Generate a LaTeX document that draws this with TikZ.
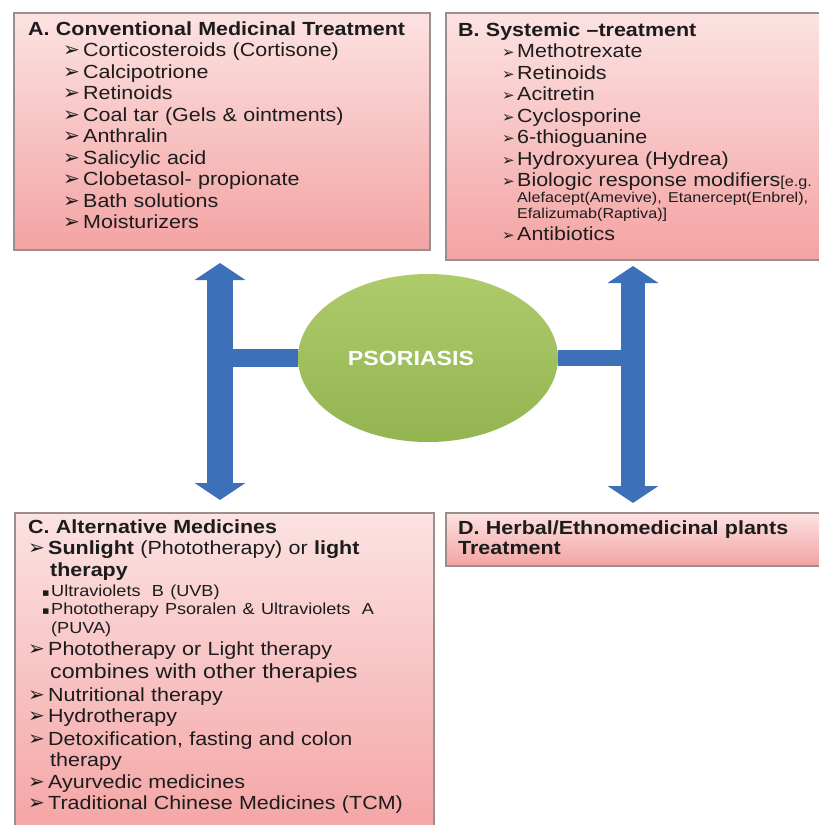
\documentclass[tikz,border=0pt]{standalone}
\usepackage{fontspec}
\setmainfont{Liberation Sans}[FakeStretch=1.13]
\newfontfamily\bulletfont{DejaVu Sans}
\usetikzlibrary{shapes.geometric,arrows.meta,shadows}

\definecolor{pinktop}{HTML}{FCE2E2}
\definecolor{pinkbot}{HTML}{F4A3A3}
\definecolor{panelline}{HTML}{9A8E8E}
\definecolor{arrowblue}{HTML}{3D70B8}
\definecolor{greentop}{HTML}{AECB6C}
\definecolor{greenbot}{HTML}{93B450}
\definecolor{inktext}{HTML}{1C1C1C}

\newcommand{\itemarrow}[1][20pt]{\makebox[#1][l]{\bulletfont\fontsize{20}{20}\selectfont\char"27A2}}
\newcommand{\itemarrowsmall}{\makebox[15pt][l]{\bulletfont\fontsize{15}{15}\selectfont\char"27A2}}
\newcommand{\itemsquare}{\makebox[9pt][l]{\bulletfont\fontsize{11}{11}\selectfont\char"25AA}}
\newcommand{\smalltext}{\fontsize{14.3}{16}\selectfont}
\newcommand{\midtext}{\fontsize{16}{18}\selectfont}
\newcommand{\listfont}{\fontsize{19}{21.5}\selectfont\lineskiplimit=-100pt\relax}

\tikzset{
	panel/.style={rectangle, anchor=north west, inner sep=0pt, top color=pinktop, bottom color=pinkbot,
		draw=panelline, line width=1.5pt, drop shadow={shadow xshift=1.5pt, shadow yshift=-1.5pt, opacity=0.3}},
	listtext/.style={anchor=base west, inner sep=0pt, text width=390pt, align=left, text=inktext,
		font=\listfont},
	updown/.style={draw=arrowblue, line width=26pt, {Triangle[length=17pt,width=50pt]}-{Triangle[length=17pt,width=50pt]}},
	crossbar/.style={draw=arrowblue, line width=18pt}
}

\begin{document}
\begin{tikzpicture}[x=1pt,y=-1pt]
	\useasboundingbox (0,0) rectangle (819,825);
	% panels
	\node[panel, minimum width=416pt, minimum height=237pt] (boxA) at (13,12) {};
	\node[panel, minimum width=380pt, minimum height=247pt] (boxB) at (445,12) {};
	\node[panel, minimum width=419pt, minimum height=328pt] (boxC) at (14,512) {};
	\node[panel, minimum width=380pt, minimum height=53pt] (boxD) at (445,512) {};
	% panel texts
	\node[listtext] (listA) at (28,35) {\textbf{A. Conventional Medicinal Treatment}\\
		\hspace*{35pt}\itemarrow Corticosteroids (Cortisone)\\
		\hspace*{35pt}\itemarrow Calcipotrione\\
		\hspace*{35pt}\itemarrow Retinoids\\
		\hspace*{35pt}\itemarrow Coal tar (Gels \& ointments)\\
		\hspace*{35pt}\itemarrow Anthralin\\
		\hspace*{35pt}\itemarrow Salicylic acid\\
		\hspace*{35pt}\itemarrow Clobetasol- propionate\\
		\hspace*{35pt}\itemarrow Bath solutions\\
		\hspace*{35pt}\itemarrow Moisturizers};
	\node[listtext] (listB) at (458,36) {\textbf{B. Systemic –treatment}\\
		\hspace*{44pt}\itemarrowsmall Methotrexate\\
		\hspace*{44pt}\itemarrowsmall Retinoids\\
		\hspace*{44pt}\itemarrowsmall Acitretin\\
		\hspace*{44pt}\itemarrowsmall Cyclosporine\\
		\hspace*{44pt}\itemarrowsmall 6-thioguanine\\
		\hspace*{44pt}\itemarrowsmall Hydroxyurea (Hydrea)\\
		\hspace*{44pt}\itemarrowsmall Biologic response modifiers{\smalltext[e.g.}\\[-5.5pt]
		\hspace*{59pt}{\smalltext Alefacept(Amevive), Etanercept(Enbrel),}\\[-5.5pt]
		\hspace*{59pt}{\smalltext Efalizumab(Raptiva)]}\\
		\hspace*{44pt}\itemarrowsmall Antibiotics};
	\node[listtext] (listC) at (28,533) {\textbf{C. Alternative Medicines}\\
		\itemarrow\textbf{Sunlight} (Phototherapy) or \textbf{light}\\
		\hspace*{22pt}\textbf{therapy}\\[-1.5pt]
		\hspace*{14pt}\itemsquare{\midtext Ultraviolets\hspace{5pt} B (UVB)}\\[-3.5pt]
		\hspace*{14pt}\itemsquare{\midtext Phototherapy Psoralen \& Ultraviolets\hspace{5pt} A}\\[-2pt]
		\hspace*{23pt}{\midtext (PUVA)}\\
		\itemarrow Phototherapy or Light therapy\\[1.5pt]
		\hspace*{22pt}{\fontsize{20.5}{21.5}\selectfont combines with other therapies}\\[1.5pt]
		\itemarrow Nutritional therapy\\
		\itemarrow Hydrotherapy\\[1.5pt]
		\itemarrow Detoxification, fasting and colon\\[-1pt]
		\hspace*{22pt}therapy\\[0.5pt]
		\itemarrow Ayurvedic medicines\\[-0.5pt]
		\itemarrow Traditional Chinese Medicines (TCM)};
	\node[listtext] (listD) at (458,534) {\textbf{D. Herbal/Ethnomedicinal plants}\\[-1.5pt]
		\textbf{Treatment}};
	% centre
	\node[ellipse, minimum width=260pt, minimum height=168pt, inner sep=0pt, top color=greentop, bottom color=greenbot,
		text=white, font=\bfseries\fontsize{20.5}{20.5}\selectfont] (psoriasis) at (428,358) {\hspace*{-34pt}PSORIASIS};
	% arrows
	\coordinate (leftTop) at (220,263);
	\coordinate (leftBot) at (220,500);
	\coordinate (leftJoin) at (207,358);
	\coordinate (rightTop) at (633,266);
	\coordinate (rightBot) at (633,503);
	\coordinate (rightJoin) at (645,358);
	\draw[updown] (leftTop) -- (leftBot);
	\draw[updown, line width=24pt] (rightTop) -- (rightBot);
	\draw[crossbar] (psoriasis.west) -- (leftJoin);
	\draw[crossbar, line width=16pt] (psoriasis.east) -- (rightJoin);
\end{tikzpicture}
\end{document}
